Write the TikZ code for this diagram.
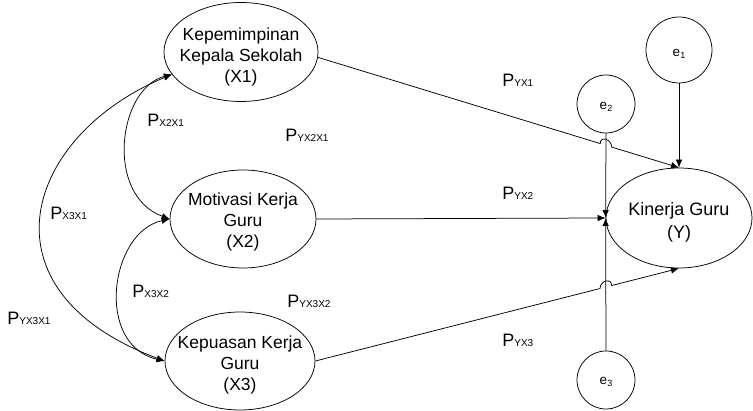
\documentclass[tikz,border=0pt]{standalone}
\usepackage{fontspec}
\setmainfont{Liberation Sans}
\usetikzlibrary{arrows.meta,shapes.geometric,calc}

% path coefficient: large P with a small upper-case index on the baseline
\newcommand{\coefP}[1]{P{\fontsize{10}{12}\selectfont #1}}
% error term: e with a lowered index
\newcommand{\errlab}[1]{e\raisebox{-2.5pt}{\fontsize{9}{10}\selectfont #1}}

\begin{document}
\begin{tikzpicture}[x=1pt,y=-1pt,line width=0.75pt,
  latent/.style={ellipse,draw,inner sep=0pt},
  errnode/.style={circle,draw,inner sep=0pt},
  vartext/.style={align=center,inner sep=0pt,font=\fontsize{17.5}{21}\selectfont},
  errtext/.style={inner sep=0pt,font=\fontsize{13.5}{15}\selectfont},
  coef/.style={anchor=base west,inner sep=0pt,font=\fontsize{18}{20}\selectfont},
  tip/.tip={Latex[length=8pt,width=6.5pt]},
  link/.style={-tip},
  corr/.style={tip-tip}]

\useasboundingbox (0,0) rectangle (753,411);

% latent variables
\node[latent,minimum width=154pt,minimum height=99pt] (X1) at (241,52) {};
\node[latent,minimum width=146pt,minimum height=98pt] (X2) at (243,219) {};
\node[latent,minimum width=150pt,minimum height=98pt] (X3) at (240,361) {};
\node[latent,minimum width=146pt,minimum height=100pt] (Y) at (679,218) {};

\node[vartext] (X1t) at (241,57) {Kepemimpinan\\Kepala Sekolah\\(X1)};
\node[vartext] (X2t) at (243,222) {Motivasi Kerja\\Guru\\(X2)};
\node[vartext] (X3t) at (240,365) {Kepuasan Kerja\\Guru\\(X3)};
\node[vartext,font=\fontsize{18}{23}\selectfont] (Yt) at (679,222) {Kinerja Guru\\(Y)};

% error terms
\node[errnode,minimum size=66pt] (e1) at (679,50) {};
\node[errnode,minimum size=58pt] (e2) at (606,104) {};
\node[errnode,minimum size=58pt] (e3) at (606,380) {};
\node[errtext] (e1t) at (679,54) {\errlab{1}};
\node[errtext] (e2t) at (606,107) {\errlab{2}};
\node[errtext] (e3t) at (606,382) {\errlab{3}};

% error arrows into Y
\draw[link] (e1.south) -- (Y.north);
\draw[link] (e2.south) -- (Y.west);
\draw[link] (e3.north) -- (Y.west);

% direct paths into Y (the slanted ones hop over the e2/e3 line)
\coordinate (s1) at (X1.-4);
\coordinate (c1) at (intersection of s1--Y.north and e2.south--Y.west);
\draw[link] (s1) -- ($(c1)!6pt!(s1)$)
  .. controls +(0,-8) and +(0,-8) .. ($(c1)!6pt!(Y.north)$) -- (Y.north);

\draw[link] (X2.east) -- (Y.west);

\coordinate (s3) at (X3.east);
\coordinate (c3) at (intersection of s3--Y.south and e3.north--Y.west);
\draw[link] (s3) -- ($(c3)!6pt!(s3)$)
  .. controls +(0,-8) and +(0,-8) .. ($(c3)!6pt!(Y.south)$) -- (Y.south);

% correlations among the exogenous variables
\draw[corr] (X1.198) .. controls +(-54,14) and +(-65,-24) .. (X2.west);
\draw[corr] (X1.198) .. controls +(-147,61) and +(-190,-71) .. (X3.west);
\draw[corr] (X2.west) .. controls +(-60,13) and +(-70,-16) .. (X3.west);

% coefficients
\node[coef] (pyx1) at (502,87) {\coefP{YX1}};
\node[coef] (px2x1) at (147,127) {\coefP{X2X1}};
\node[coef] (pyx2x1) at (285,142) {\coefP{YX2X1}};
\node[coef] (pyx2) at (502,200) {\coefP{YX2}};
\node[coef] (px3x1) at (50,220) {\coefP{X3X1}};
\node[coef] (px3x2) at (132,298) {\coefP{X3X2}};
\node[coef] (pyx3x2) at (287,308) {\coefP{YX3X2}};
\node[coef] (pyx3x1) at (7,325) {\coefP{YX3X1}};
\node[coef] (pyx3) at (502,347) {\coefP{YX3}};
\end{tikzpicture}
\end{document}
